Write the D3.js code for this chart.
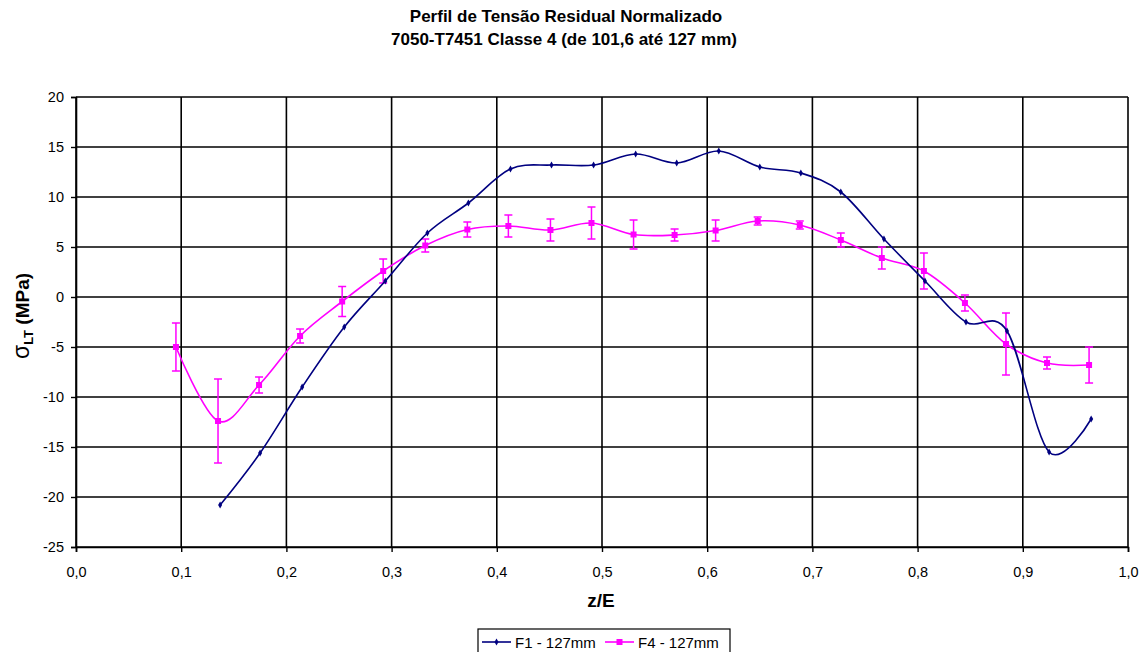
<!DOCTYPE html>
<html>
<head>
<meta charset="utf-8">
<script src="https://cdn.jsdelivr.net/npm/d3@7"></script>
<style>
  body { margin: 0; background: #fff; }
  svg { font-family: "Liberation Sans", Arial, sans-serif; }
</style>
</head>
<body>
<div id="chart"></div>
<script>
// F1 - 127mm (navy line)
const zF1 = [0.137, 0.175, 0.215, 0.255, 0.294, 0.334, 0.373, 0.413, 0.452, 0.492, 0.532,
             0.571, 0.611, 0.650, 0.689, 0.727, 0.768, 0.807, 0.846, 0.885, 0.925, 0.965];
const sigF1 = [-20.8, -15.6, -9.0, -3.0, 1.6, 6.4, 9.4, 12.8, 13.2, 13.2, 14.3,
               13.4, 14.6, 13.0, 12.4, 10.5, 5.8, 1.6, -2.5, -3.4, -15.5, -12.2];

// F4 - 127mm (magenta line with error bars)
const zF4 = [0.095, 0.135, 0.174, 0.213, 0.253, 0.292, 0.332, 0.372, 0.411, 0.451, 0.490, 0.530,
             0.569, 0.608, 0.648, 0.688, 0.727, 0.766, 0.806, 0.845, 0.884, 0.923, 0.963];
const sigF4 = [-5.0, -12.4, -8.8, -3.9, -0.45, 2.6, 5.15, 6.75, 7.1, 6.7, 7.4, 6.25,
               6.2, 6.65, 7.6, 7.2, 5.7, 3.9, 2.6, -0.6, -4.7, -6.6, -6.8];
const errF4 = [2.4, 4.2, 0.8, 0.7, 1.5, 1.2, 0.65, 0.75, 1.1, 1.1, 1.6, 1.45,
               0.6, 1.05, 0.4, 0.4, 0.7, 1.1, 1.8, 0.8, 3.1, 0.6, 1.8];

const xTicks = [0, 0.1, 0.2, 0.3, 0.4, 0.5, 0.6, 0.7, 0.8, 0.9, 1.0];
const yTicks = [-25, -20, -15, -10, -5, 0, 5, 10, 15, 20];

const width = 1147, height = 652;
const margin = {top: 97, right: 19, bottom: 105, left: 76};

const svg = d3.select("#chart").append("svg")
    .attr("width", width)
    .attr("height", height);

const x = d3.scaleLinear().domain([0, 1]).range([margin.left, width - margin.right]);
const y = d3.scaleLinear().domain([-25, 20]).range([height - margin.bottom, margin.top]);

const comma = d => d3.format(".1f")(d).replace(".", ",");

// titles
svg.append("text")
    .attr("x", 566).attr("y", 22)
    .attr("text-anchor", "middle")
    .attr("font-size", 17).attr("font-weight", "bold")
    .text("Perfil de Tensão Residual Normalizado");
svg.append("text")
    .attr("x", 564).attr("y", 45)
    .attr("text-anchor", "middle")
    .attr("font-size", 17).attr("font-weight", "bold")
    .text("7050-T7451 Classe 4 (de 101,6 até 127 mm)");

// grid
const grid = svg.append("g").attr("stroke", "#000").attr("stroke-width", 1.6);
grid.selectAll("line.h").data(yTicks).join("line")
    .attr("class", "h")
    .attr("x1", x(0)).attr("x2", x(1))
    .attr("y1", d => y(d)).attr("y2", d => y(d));
grid.selectAll("line.v").data(xTicks).join("line")
    .attr("class", "v")
    .attr("y1", y(-25)).attr("y2", y(20))
    .attr("x1", d => x(d)).attr("x2", d => x(d));

// axes
const xAxis = svg.append("g")
    .attr("transform", `translate(0,${y(-25)})`)
    .call(d3.axisBottom(x).tickValues(xTicks).tickFormat(comma).tickSize(5).tickPadding(15));
const yAxis = svg.append("g")
    .attr("transform", `translate(${x(0)},0)`)
    .call(d3.axisLeft(y).tickValues(yTicks).tickFormat(d => String(d)).tickSize(5).tickPadding(7));

[xAxis, yAxis].forEach(a => {
    a.select(".domain").attr("stroke", "#000").attr("stroke-width", 1.6);
    a.selectAll(".tick line").attr("stroke", "#000").attr("stroke-width", 1.4);
    a.selectAll(".tick text").attr("font-size", 14.5).attr("fill", "#000")
        .attr("font-family", "Liberation Sans, Arial, sans-serif");
});

// axis titles
svg.append("text")
    .attr("x", 601).attr("y", 607)
    .attr("text-anchor", "middle")
    .attr("font-size", 19).attr("font-weight", "bold")
    .text("z/E");

const yTitle = svg.append("text")
    .attr("transform", `translate(29,${316}) rotate(-90)`)
    .attr("text-anchor", "middle")
    .attr("font-size", 19).attr("font-weight", "bold");
yTitle.append("tspan").attr("font-weight", "normal").attr("font-size", 23).text("σ");
yTitle.append("tspan").attr("font-size", 13).attr("dy", 4).text("LT");
yTitle.append("tspan").attr("dy", -4).text(" (MPa)");

// lines
const line = d3.line()
    .x(d => x(d[0]))
    .y(d => y(d[1]))
    .curve(d3.curveCatmullRom.alpha(0));

const f1 = zF1.map((z, i) => [z, sigF1[i]]);
const f4 = zF4.map((z, i) => [z, sigF4[i], errF4[i]]);

// F4 error bars
const eb = svg.append("g").attr("stroke", "#FF00FF").attr("stroke-width", 1.5);
eb.selectAll("line.stem").data(f4).join("line")
    .attr("x1", d => x(d[0])).attr("x2", d => x(d[0]))
    .attr("y1", d => y(d[1] + d[2])).attr("y2", d => y(d[1] - d[2]));
eb.selectAll("line.capt").data(f4).join("line")
    .attr("x1", d => x(d[0]) - 4).attr("x2", d => x(d[0]) + 4)
    .attr("y1", d => y(d[1] + d[2])).attr("y2", d => y(d[1] + d[2]));
eb.selectAll("line.capb").data(f4).join("line")
    .attr("x1", d => x(d[0]) - 4).attr("x2", d => x(d[0]) + 4)
    .attr("y1", d => y(d[1] - d[2])).attr("y2", d => y(d[1] - d[2]));

svg.append("path").datum(f4)
    .attr("fill", "none").attr("stroke", "#FF00FF").attr("stroke-width", 1.6)
    .attr("d", line);
svg.append("g").selectAll("rect").data(f4).join("rect")
    .attr("x", d => x(d[0]) - 3).attr("y", d => y(d[1]) - 3)
    .attr("width", 6).attr("height", 6)
    .attr("fill", "#FF00FF");

svg.append("path").datum(f1)
    .attr("fill", "none").attr("stroke", "#000080").attr("stroke-width", 1.6)
    .attr("d", line);
svg.append("g").selectAll("path").data(f1).join("path")
    .attr("transform", d => `translate(${x(d[0])},${y(d[1])})`)
    .attr("d", d3.symbol().type(d3.symbolDiamond).size(14)())
    .attr("fill", "#000080");

// legend
const lg = svg.append("g").attr("transform", "translate(478,629)");
lg.append("rect").attr("width", 252).attr("height", 26)
    .attr("fill", "#fff").attr("stroke", "#000").attr("stroke-width", 1.2);
const items = [
    {name: "F1 - 127mm", color: "#000080", x: 4},
    {name: "F4 - 127mm", color: "#FF00FF", x: 127}
];
items.forEach(it => {
    const g = lg.append("g").attr("transform", `translate(${it.x},13)`);
    g.append("line").attr("x1", 0).attr("x2", 29)
        .attr("stroke", it.color).attr("stroke-width", 1.6);
    if (it.color === "#FF00FF") {
        g.append("rect").attr("x", 11.5).attr("y", -3).attr("width", 6).attr("height", 6).attr("fill", it.color);
    } else {
        g.append("path").attr("transform", "translate(14.5,0)")
            .attr("d", d3.symbol().type(d3.symbolDiamond).size(14)()).attr("fill", it.color);
    }
    g.append("text").attr("x", 33).attr("y", 6)
        .attr("font-size", 15).text(it.name);
});
</script>
</body>
</html>
